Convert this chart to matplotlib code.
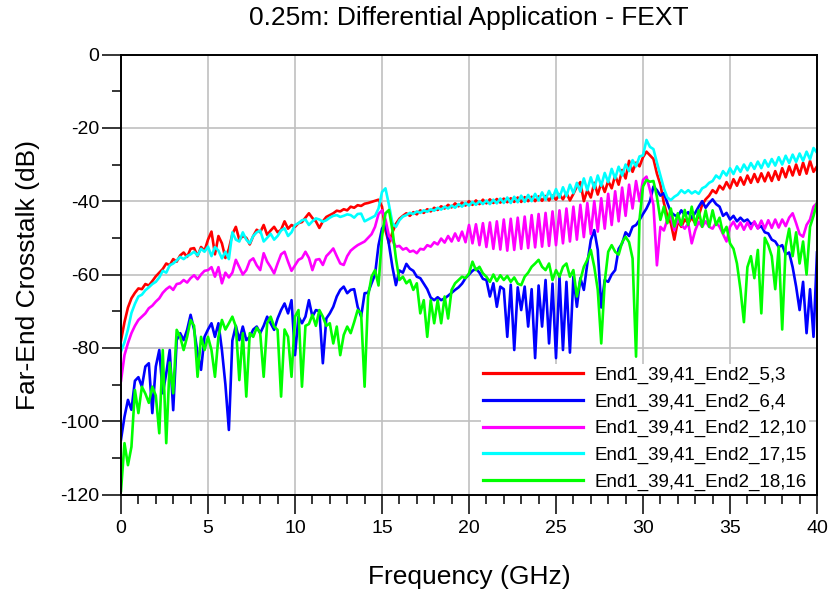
import numpy as np
import matplotlib
matplotlib.use("Agg")
import matplotlib.pyplot as plt
from matplotlib.ticker import MultipleLocator

plt.rcParams['font.family'] = ['Liberation Sans', 'DejaVu Sans']
plt.rcParams['axes.unicode_minus'] = False

# Frequenz-Raster der Simulation (0 .. 40 GHz, 0.2 GHz Schritt)
F_STEP = 0.2

labels = ["End1_39,41_End2_5,3", "End1_39,41_End2_6,4", "End1_39,41_End2_12,10",
          "End1_39,41_End2_17,15", "End1_39,41_End2_18,16"]
colors = ["#ff0000", "#0000ff", "#ff00ff", "#00ffff", "#00ff00"]

# FEXT [dB], ein Wert pro 0.2 GHz
red = [
    -78, -73, -69, -66.5, -65, -63.8, -64, -62.6, -63, -61.8,
    -60.5, -59.5, -58.5, -57, -57.5, -55.8, -56.5, -54.8, -54, -55.2,
    -53, -52.8, -55, -52.5, -53.5, -50.5, -48.3, -54.5, -49.5, -51.5,
    -55.5, -53, -49, -47, -50.5, -49.5, -50, -51.8, -49.5, -47.8,
    -48.5, -46.5, -49.2, -48, -47, -48.5, -47.8, -45.5, -47.5, -46.5,
    -47, -46, -45.7, -44.5, -43.3, -44.6, -45.5, -47.3, -45.5, -44.3,
    -43.8, -43.3, -42.6, -42.8, -42.2, -42.5, -41.5, -41.8, -41.1, -41.3,
    -40.7, -40.5, -40.2, -39.9, -39.6, -41.5, -48, -51.5, -48.5, -46.2,
    -44.8, -44, -43.3, -44, -43, -43.6, -42.5, -43.2, -42.2, -42.8,
    -41.8, -42.4, -41.4, -42, -41, -41.7, -40.6, -41.4, -40.4, -41.2,
    -40, -41, -39.8, -40.8, -39.6, -40.6, -39.5, -40.5, -39.4, -40.4,
    -39.3, -40.3, -39.2, -40.2, -39, -40.2, -38.9, -40, -38.8, -40,
    -38.7, -39.9, -38.6, -39.8, -38.5, -39.6, -38.2, -39.5, -37.8, -39.8,
    -38, -36, -34.8, -40, -37, -39, -35, -38.2, -35, -37.5,
    -34.5, -36.5, -33, -35.5, -31.5, -33.8, -29, -32, -29.5, -30.5,
    -28, -26.5, -27.5, -28.5, -32.5, -35.5, -40.5, -44, -46, -50.5,
    -45.5, -47, -45, -46, -44.5, -46, -44, -41, -39.5, -38.5,
    -37, -37.8, -35.8, -36.8, -34.8, -36.5, -34, -35.8, -33.5, -35.5,
    -33, -35, -32.6, -34.8, -32.4, -34.6, -32.2, -34.5, -31.8, -34.2,
    -31, -33.5, -30.5, -33, -30, -32.8, -29.5, -32.5, -29, -32,
    -30.5,
]

blue = [
    -105, -98.8, -94.2, -96.9, -89, -88, -90.6, -85.1, -84.2, -97.8,
    -85.1, -80.6, -92.4, -87, -80.6, -97, -77.9, -76, -77.9, -75.1,
    -71, -75, -81.5, -86, -77, -75, -73.3, -77, -73.3, -80.6,
    -90, -102.4, -78, -74, -77.9, -74.2, -77.9, -77, -75, -74.2,
    -76, -74, -71.5, -73.3, -75.1, -72, -69.7, -67.9, -70.6, -67,
    -82, -71.5, -73.3, -71.5, -67, -71.5, -69.7, -70, -84.2, -72,
    -70.6, -68.8, -66, -64.2, -63.3, -65.1, -64.2, -64, -68.8, -71.5,
    -65.1, -65, -62.4, -60, -52, -47.5, -46, -51.8, -58, -62.9,
    -58.9, -59.5, -57.1, -58.4, -59, -60.6, -61, -62.5, -64, -66.3,
    -67, -66.2, -67, -66.5, -65.8, -65, -64.2, -63.5, -62.5, -61,
    -60, -59, -58.4, -59.5, -61.2, -61.5, -66, -62.4, -68.8, -63.3,
    -64, -77, -62.8, -80.6, -63.5, -69.7, -63.3, -74.2, -64, -82.8,
    -63, -74.2, -61.5, -78.8, -62.5, -82.8, -60.6, -80.6, -62, -81.3,
    -60.6, -68.8, -61, -64.2, -57, -50.6, -47.9, -53.3, -69, -61.5,
    -62, -60, -58.8, -53, -51.5, -48.5, -49.5, -47, -46.5, -45.1,
    -43.5, -42, -40, -36, -37, -38.5, -37.8, -40.5, -43, -43.8,
    -44.2, -42.5, -43.8, -43, -44.5, -43.2, -41.5, -40, -41.8, -40.5,
    -39.5, -40.8, -41.5, -44, -43.2, -45, -44, -45.5, -44.5, -45.5,
    -45, -46.3, -45.8, -47.3, -46.8, -48.5, -48.8, -50.5, -51, -52.5,
    -52, -54.5, -54, -58, -63.3, -69.7, -62, -76, -64, -77,
    -54,
]

magenta = [
    -89, -82, -78.7, -76, -74, -72.4, -71.5, -70.6, -69.2, -68.5,
    -67.4, -66.5, -65, -64, -63.3, -64.2, -62.6, -62.4, -61.5, -62.2,
    -61, -60.2, -61.3, -60, -59, -58.8, -58, -60.6, -58, -62.4,
    -59.5, -60.8, -59.5, -56, -58, -60, -58.8, -56.3, -55.6, -57.5,
    -58.8, -54.2, -56.5, -58, -59.7, -57, -54.5, -53.8, -56.5, -59,
    -57.5, -56, -55.5, -53.8, -55.5, -58.8, -56, -55.8, -57.4, -55,
    -54, -52.9, -55, -57, -57.4, -55, -53.5, -52.7, -52, -51.5,
    -51, -50, -49, -47, -43.5, -42.5, -45, -49.5, -50.8, -52.4,
    -52.2, -53.2, -52.8, -53.8, -53.5, -54.2, -53, -53.2, -52, -52.4,
    -51.2, -51.8, -50.2, -51.3, -49.5, -51, -48.8, -50.8, -48.3, -51.2,
    -46.5, -51.5, -46.3, -52, -46, -52.5, -45.8, -53, -45.5, -53.2,
    -45, -53.5, -44.8, -53.3, -44.5, -53, -44.2, -52.8, -43.8, -52.6,
    -43.5, -52.4, -43.2, -52.2, -42.8, -52, -42.5, -51.5, -42, -51,
    -41.5, -50.5, -41, -49.8, -40.5, -49, -40, -48.3, -39.2, -47.5,
    -38, -46.5, -37.3, -45.5, -36.3, -44, -35.5, -42, -34.5, -40,
    -34.2, -33.3, -37, -41, -57.5, -47, -48, -45, -44.2, -47.9,
    -45, -46.5, -47.5, -46, -51.5, -48, -45.6, -47, -45.5, -47,
    -47.5, -45.8, -47, -49, -51, -47, -45.6, -47.5, -45.8, -47.8,
    -45.8, -47.6, -45.5, -47.5, -45.3, -47.5, -45.2, -47.3, -45, -47.2,
    -45, -46.8, -44.5, -43.3, -46, -49, -49.7, -46.5, -45, -41.5,
    -40.5,
]

cyan = [
    -81, -78.5, -75, -70.5, -68, -66, -65.5, -64.3, -63.5, -62.6,
    -62, -60.8, -59, -59.5, -57.5, -57, -56.2, -55.2, -55.8, -55,
    -54.5, -53.8, -54.8, -53, -53.8, -52.4, -55, -52.5, -53.5, -55.6,
    -53.8, -55.8, -48.5, -50.5, -51, -48.5, -50.5, -51.5, -49.5, -48.5,
    -48, -51, -50, -48.9, -50.5, -49.5, -48, -47.4, -49.5, -48.5,
    -46.5, -46, -45.2, -45, -46.5, -45.5, -44.7, -45, -45.6, -45.2,
    -44.5, -44, -43.8, -44.3, -44, -43.6, -43.8, -44.5, -43.5, -43.4,
    -45.5, -45, -44.5, -44, -42, -37.5, -36.5, -41, -46, -47,
    -45.2, -44.2, -43.8, -43.2, -43.5, -42.8, -43.2, -42.5, -42.9, -42.2,
    -42.6, -41.8, -42.3, -41.5, -42, -41.2, -41.8, -40.8, -41.5, -40.5,
    -41.2, -40.2, -41, -40, -40.8, -39.8, -40.8, -39.6, -40.6, -39.3,
    -40.5, -39, -40.5, -38.8, -40.3, -38.5, -40.2, -38.3, -40, -38,
    -39.8, -37.6, -39.6, -37.2, -39.3, -36.7, -39, -36.2, -38.6, -35.5,
    -37.8, -35, -37.4, -33.8, -37, -33.5, -36.5, -33, -35.8, -32.3,
    -34.8, -31.2, -33.8, -30.6, -33, -30, -31.8, -28.8, -30.5, -27.8,
    -27.5, -23.3, -25.2, -25.8, -29.5, -33, -36.5, -39, -39.7, -38.8,
    -38.2, -37, -37.8, -37, -37.9, -37.3, -38, -36.5, -36, -35,
    -34.5, -33, -33.8, -31.8, -33, -31, -32.6, -30.5, -32, -30,
    -31.6, -29.6, -31.2, -29.2, -31, -28.8, -30.6, -28.5, -30.3, -28,
    -30, -27.6, -29.6, -27.3, -29.3, -27, -29, -26.5, -28.6, -25.5,
    -26.8,
]

green = [
    -119, -106, -112, -107, -91.5, -97.8, -90.6, -92.5, -95, -90.6,
    -93, -103.3, -80.6, -106, -84, -92.4, -75.1, -77, -80.6, -77,
    -72.4, -74, -87.9, -77, -80.6, -77, -80.6, -87.9, -77, -72.4,
    -75, -73.3, -71.5, -74.2, -88.8, -76, -93.3, -76, -77, -74.5,
    -76, -87.9, -73.3, -71.5, -74.2, -75.1, -93.3, -75, -77, -87.9,
    -71.5, -69.7, -90.6, -74, -73.5, -71, -74, -69.7, -71.5, -74,
    -73.3, -78.8, -74.2, -82, -76.5, -74.2, -76, -73, -69.7, -70.6,
    -90.6, -66, -60.6, -58.8, -63, -49.7, -43.3, -42.4, -47.9, -55.6,
    -61.5, -60.6, -62.4, -61.5, -64.2, -62.4, -70.6, -67, -77, -67,
    -73.3, -67, -73.3, -66, -72, -64.2, -62.4, -61.5, -60.6, -61,
    -59.7, -56.5, -58.8, -57.9, -59.7, -60.6, -62, -60, -61.8, -60.2,
    -61.5, -60.4, -62, -60.8, -62.5, -62.9, -60.6, -59.5, -57.9, -57,
    -56, -57.9, -58.8, -57, -61.5, -58.8, -60.6, -57.9, -57, -60.6,
    -58.8, -66, -61.5, -57.9, -56, -53.3, -57.9, -64.2, -78.8, -62,
    -53.8, -52, -53.8, -54.6, -51.2, -49.7, -51.2, -55.6, -82.4, -45,
    -36, -34.2, -34.7, -34.5, -38.8, -45.1, -41.5, -46, -42, -46.9,
    -43.3, -46.5, -42.4, -46.5, -41.5, -46.5, -42.5, -47, -42.5, -47,
    -42.5, -46.5, -44.5, -48.8, -47, -51.5, -53, -57, -64, -73,
    -58, -55, -61, -53.3, -70.6, -50, -52, -55, -64, -52.4,
    -75, -52.4, -47.5, -55, -48.5, -57, -51, -60, -47, -44,
    -40.5,
]

series = [red, blue, magenta, cyan, green]
freq = np.arange(len(red)) * F_STEP

fig = plt.figure(figsize=(8.32, 5.92), dpi=100)
ax = fig.add_axes([121 / 832, 1 - 494.5 / 592, 696 / 832, 440 / 592])

for vals, col, lab in zip(series, colors, labels):
    ax.plot(freq, vals, color=col, lw=1.9, label=lab, solid_joinstyle='round')

ax.set_xlim(0, 40)
ax.set_ylim(-120, 0)
ax.xaxis.set_major_locator(MultipleLocator(5))
ax.xaxis.set_minor_locator(MultipleLocator(1))
ax.yaxis.set_major_locator(MultipleLocator(20))
ax.yaxis.set_minor_locator(MultipleLocator(10))

ax.grid(True, which='major', color='#c0c0c0', lw=1.2)
ax.set_axisbelow(True)
ax.tick_params(which='major', direction='out', length=13.5, width=1.1,
               labelsize=14, colors='black')
ax.tick_params(axis='x', which='major', pad=5)
ax.tick_params(axis='y', which='major', pad=2)
ax.tick_params(which='minor', direction='out', length=6.5, width=1.1)
for s in ax.spines.values():
    s.set_linewidth(1.4)
    s.set_color('black')

fig.text(469 / 832, 1 - 18 / 592, "0.25m: Differential Application - FEXT",
         ha='center', va='center', fontsize=19)
fig.text(469 / 832, 1 - 577 / 592, "Frequency (GHz)",
         ha='center', va='center', fontsize=19)
fig.text(28 / 832, 1 - 275 / 592, "Far-End Crosstalk (dB)",
         ha='center', va='center', rotation=90, fontsize=19)

# Legende unten rechts, weisser Hintergrund ohne Rahmen
leg = ax.legend(loc='lower right', bbox_to_anchor=(1 - 7 / 696, 0),
                fontsize=13.5, frameon=True, fancybox=False,
                framealpha=1, facecolor='white', edgecolor='none',
                handlelength=5.3, handletextpad=0.6, labelspacing=0.5,
                borderpad=0.15, borderaxespad=0.05)
for line in leg.get_lines():
    line.set_linewidth(2.3)

fig.savefig("out.png", dpi=100)
